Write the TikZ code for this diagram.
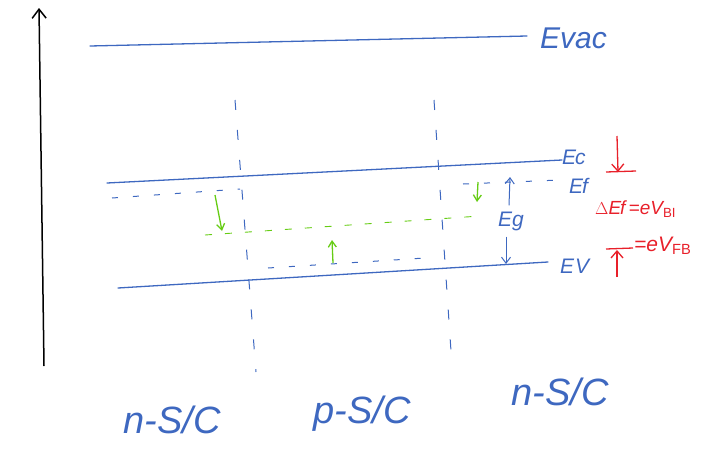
\documentclass[tikz,border=0pt]{standalone}
\usepackage{fontspec}
\setmainfont{Liberation Sans}
\usetikzlibrary{arrows.meta}
\definecolor{pen}{RGB}{62,104,192}
\definecolor{grn}{RGB}{102,204,20}
\definecolor{rd}{RGB}{232,32,42}
\begin{document}
\begin{tikzpicture}[x=1pt,y=-1pt,
  band/.style={pen, line width=1.3pt, line cap=round},
  vdash/.style={pen, line width=1pt, dash pattern=on 10pt off 20pt},
  bdash/.style={pen, line width=1pt, dash pattern=on 6pt off 15pt},
  gdash/.style={grn, line width=0.9pt, dash pattern=on 7pt off 13pt},
  garrow/.style={grn, line width=1.3pt, -{Straight Barb[length=6pt,width=8pt]}},
  rarrow/.style={rd, line width=1.3pt, -{Straight Barb[length=7pt,width=12pt]}},
  barrow/.style={pen, line width=1pt, -{Straight Barb[length=6pt,width=9pt]}},
  lbl/.style={pen, font=\itshape\fontsize{21}{21}\selectfont, inner sep=0pt},
  big/.style={pen, font=\itshape\fontsize{38}{38}\selectfont, inner sep=0pt},
  rlbl/.style={rd, font=\itshape\fontsize{19}{19}\selectfont, inner sep=0pt}]
\useasboundingbox (0,0) rectangle (703,455);
% energy axis
\coordinate (ax0) at (44,366);
\coordinate (ax1) at (39,8);
\draw[black, line width=1.5pt, -{Straight Barb[length=9pt,width=14pt]}] (ax0) -- (ax1);
% band lines
\coordinate (vac0) at (90,46);  \coordinate (vac1) at (527,36);
\coordinate (c0) at (107,183);  \coordinate (c1) at (562,160);
\coordinate (v0) at (118,288);  \coordinate (v1) at (548,262);
\draw[band] (vac0) -- (vac1);
\draw[band] (c0) -- (c1);
\draw[band] (v0) -- (v1);
\node[lbl, anchor=west, font=\itshape\fontsize{30}{30}\selectfont] (evac) at (540,38) {Evac};
\node[lbl, anchor=west] (ec) at (562,157) {E\kern-1pt c};
\node[lbl, anchor=west] (ef) at (569,186) {E\kern-1pt f};
\node[lbl, anchor=west] (ev) at (560,266) {E\kern1pt V};
% junction boundaries
\coordinate (j1a) at (235,100); \coordinate (j1b) at (256,372);
\coordinate (j2a) at (434,100); \coordinate (j2b) at (452,366);
\draw[vdash] (j1a) -- (j1b);
\draw[vdash] (j2a) -- (j2b);
% Fermi levels
\coordinate (fl0) at (112,198); \coordinate (fl1) at (240,189);
\draw[bdash] (fl0) -- (fl1);
\coordinate (fr0) at (463,184); \coordinate (fr1) at (560,180);
\draw[bdash] (fr0) -- (fr1);
\coordinate (fp0) at (268,268); \coordinate (fp1) at (425,258);
\draw[bdash] (fp0) -- (fp1);
\coordinate (g0) at (205,235); \coordinate (g1) at (480,216);
\draw[gdash] (g0) -- (g1);
% green arrows
\coordinate (ga0) at (215,195); \coordinate (ga1) at (222,231);
\draw[garrow] (ga0) -- (ga1);
\coordinate (gb0) at (478,182); \coordinate (gb1) at (477,202);
\draw[garrow] (gb0) -- (gb1);
\coordinate (gc0) at (333,263); \coordinate (gc1) at (332,240);
\draw[garrow] (gc0) -- (gc1);
% band gap
\node[lbl, anchor=center] (eg) at (511,221) {Eg};
\coordinate (egt) at (510,177); \coordinate (egb) at (506,264);
\draw[barrow] (eg.north) ++(-2,-6) -- (egt);
\draw[barrow] (eg.south) ++(-5,6) -- (egb);
% red annotations
\coordinate (ra0) at (617,136); \coordinate (ra1) at (618,172);
\draw[rarrow] (ra0) -- (ra1);
\draw[rd, line width=1.3pt] (606,172) -- (636,171);
\node[rlbl, anchor=west] (dvbi) at (595,209) {$\Delta$E\kern-1pt f\,=eV$_{\mathrm{BI}}$};
\coordinate (rb0) at (617,277); \coordinate (rb1) at (617,250);
\draw[rarrow] (rb0) -- (rb1);
\draw[rd, line width=1.3pt] (606,249) -- (633,248);
\node[rlbl, anchor=west, font=\itshape\fontsize{21}{21}\selectfont] (vfb) at (634,246) {=eV$_{\mathrm{FB}}$};
% region labels
\node[big] (n1) at (172,420) {n-S/C};
\node[big] (p1) at (362,414) {p-S/C};
\node[big] (n2) at (560,392) {n-S/C};
\end{tikzpicture}
\end{document}
